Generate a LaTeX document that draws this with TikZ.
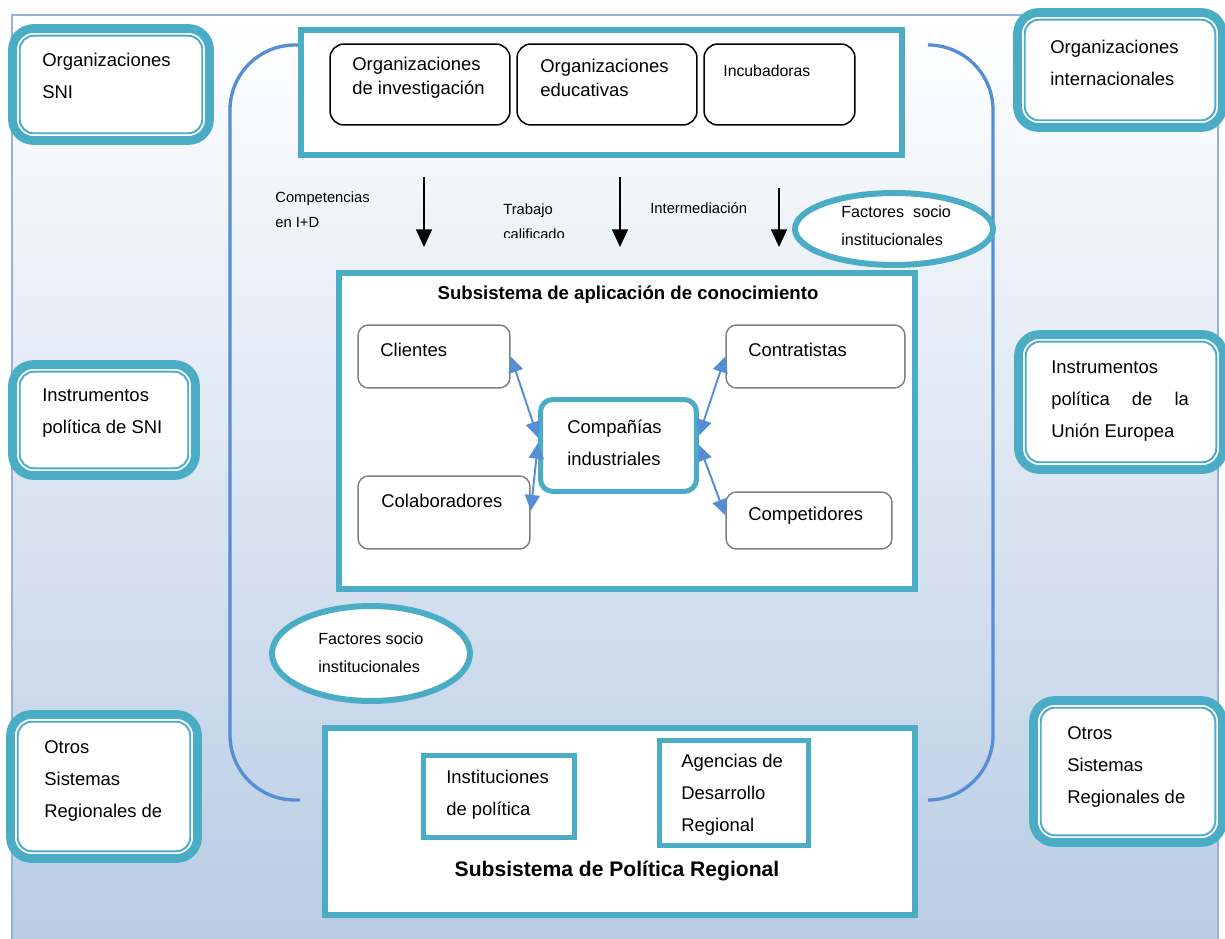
\documentclass[tikz,border=0pt]{standalone}
\usepackage{fontspec}
\setmainfont{Liberation Sans}
\usetikzlibrary{shapes.geometric,arrows.meta}
\pgfdeclarelayer{bg}
\pgfsetlayers{bg,main}
\definecolor{tealb}{RGB}{75,172,198}
\definecolor{bluel}{RGB}{85,142,213}
\definecolor{framec}{RGB}{149,179,215}
\definecolor{bgbot}{RGB}{183,203,228}
\definecolor{grayb}{RGB}{128,128,128}
\tikzset{
  cornerbox/.style={draw=tealb, line width=5pt, fill=white, rounded corners=12pt},
  innerline/.style={draw=tealb, line width=1.1pt, rounded corners=8pt},
  tealframe/.style={draw=tealb, line width=3.4pt, fill=white},
  tealsq/.style={draw=tealb, line width=2.85pt, fill=white},
  blackbox/.style={draw=black, line width=0.85pt, rounded corners=8pt, fill=white},
  graybox/.style={draw=grayb, line width=0.85pt, rounded corners=6pt, fill=white},
  ellipsebox/.style={ellipse, draw=tealb, line width=3.4pt, fill=white, inner sep=0pt},
  bracketline/.style={draw=bluel, line width=1.9pt, rounded corners=1.3cm},
  downarrow/.style={line width=1.1pt, arrows=-{Triangle[width=9pt,length=10pt]}},
  biarrow/.style={bluel, line width=1.1pt, arrows={Triangle[width=8.5pt,length=9pt]-Triangle[width=8.5pt,length=9pt]}},
  txt/.style={font=\fontsize{10.5}{18.2}\selectfont, align=left, inner sep=0pt, anchor=west},
  toptxt/.style={txt, font=\fontsize{10.5}{13.7}\selectfont},
  smalltxt/.style={txt, font=\fontsize{8.4}{14.2}\selectfont},
  socio/.style={txt, font=\fontsize{9.2}{15.9}\selectfont},
  title/.style={font=\bfseries\fontsize{10.6}{13}\selectfont, inner sep=0pt}
}
\begin{document}
\begin{tikzpicture}[x=0.02cm, y=-0.02cm]
        \useasboundingbox (0,0) rectangle (1225,939);
        \begin{pgfonlayer}{bg}
                \shade[top color=white, bottom color=bgbot] (12,15) rectangle (1218,960);
                \draw[framec, line width=1.1pt] (12,960) -- (12,15) -- (1218,15) -- (1218,960);
        \end{pgfonlayer}
        % brackets round the regional system
        \draw[bracketline] (300,45) -- (230,45) -- (230,800) -- (300,800);
        \draw[bracketline] (930,45) -- (993,45) -- (993,800) -- (930,800);
        % corner boxes
        \node[cornerbox, minimum width=3.94cm, minimum height=2.24cm] (orgsni) at (111,84.5) {};
        \node[cornerbox, minimum width=4.10cm, minimum height=2.30cm] (orgint) at (1120,70) {};
        \node[cornerbox, minimum width=3.66cm, minimum height=2.22cm] (instsni) at (104,420) {};
        \node[cornerbox, minimum width=4.10cm, minimum height=2.70cm] (instue) at (1121,402) {};
        \node[cornerbox, minimum width=3.74cm, minimum height=2.88cm] (otrosL) at (104,786.5) {};
        \node[cornerbox, minimum width=3.78cm, minimum height=2.84cm] (otrosR) at (1128,771.5) {};
        \foreach \n in {orgsni,orgint,instsni,instue,otrosL,otrosR}
                \draw[innerline] ([xshift=6.6pt,yshift=-6.6pt]\n.north west) rectangle ([xshift=-6.6pt,yshift=6.6pt]\n.south east);
        \node[txt] (orgsnit) at (42,76) {Organizaciones\\SNI};
        \node[txt] (orgintt) at (1050,62.5) {Organizaciones\\internacionales};
        \node[txt] (instsnit) at (42,413.5) {Instrumentos\\política de SNI};
        \node[txt] (instuet) at (1051,401) {Instrumentos\\política\hspace{1.2em}de\hspace{1.2em}la\\Unión Europea};
        \node[txt] (otrosLt) at (44,781) {Otros\\Sistemas\\Regionales de};
        \node[txt] (otrosRt) at (1067,767) {Otros\\Sistemas\\Regionales de};
        % knowledge generation
        \node[tealframe, minimum width=12.02cm, minimum height=2.50cm] (gen) at (601.5,92.5) {};
        \node[blackbox, minimum width=3.6cm, minimum height=1.62cm] (orginv) at (420,84.5) {};
        \node[blackbox, minimum width=3.6cm, minimum height=1.62cm] (orgedu) at (607,84.5) {};
        \node[blackbox, minimum width=3.02cm, minimum height=1.62cm] (incub) at (779.5,84.5) {};
        \node[toptxt] (orginvt) at (352,78) {Organizaciones\\de investigación};
        \node[toptxt] (orgedut) at (540,78) {Organizaciones\\educativas};
        \node[txt, font=\fontsize{9}{11}\selectfont] (incubt) at (723,71) {Incubadoras};
        % flows
        \coordinate (f1) at (424,177); \coordinate (g1) at (424,247);
        \coordinate (f2) at (620,177); \coordinate (g2) at (620,247);
        \coordinate (f3) at (779,188); \coordinate (g3) at (779,247);
        \draw[downarrow] (f1) -- (g1);
        \draw[downarrow] (f2) -- (g2);
        \draw[downarrow] (f3) -- (g3);
        \node[smalltxt] (lblcomp) at (275,209.5) {Competencias\\en I+D};
        \begin{scope}
                \clip (495,190) rectangle (600,238);
                \node[smalltxt] (lbltrab) at (503,221.5) {Trabajo\\calificado};
        \end{scope}
        \node[smalltxt] (lblinter) at (650,208) {Intermediación};
        % knowledge application
        \node[tealframe, minimum width=11.52cm, minimum height=6.32cm] (apl) at (627,431) {};
        \node[title] (apltitle) at (628,295) {Subsistema de aplicación de conocimiento};
        \node[graybox, minimum width=3.04cm, minimum height=1.26cm] (clientes) at (434,356.5) {};
        \node[graybox, minimum width=3.44cm, minimum height=1.46cm] (colab) at (444,512.5) {};
        \node[graybox, minimum width=3.58cm, minimum height=1.26cm] (contrat) at (815.5,356.5) {};
        \node[graybox, minimum width=3.32cm, minimum height=1.14cm] (compet) at (809,520.5) {};
        \node[draw=tealb, line width=2.85pt, rounded corners=7pt, fill=white, minimum width=3.12cm, minimum height=1.84cm] (compania) at (618.5,445.5) {};
        \node[txt] (clientest) at (380,350) {Clientes};
        \node[txt] (colabt) at (381,501) {Colaboradores};
        \node[txt] (contratt) at (748,350) {Contratistas};
        \node[txt] (compett) at (748,516) {Competidores};
        \node[txt] (companiat) at (567,443) {Compañías\\industriales};
        \draw[biarrow] (clientes.east) -- ([yshift=4.5pt]compania.west);
        \draw[biarrow] ([yshift=1pt]colab.east) -- ([yshift=1.5pt]compania.west);
        \draw[biarrow] (contrat.west) -- ([yshift=5.7pt]compania.east);
        \draw[biarrow] ([yshift=0.3pt]compania.east) -- ([yshift=3pt]compet.west);
        % socio-institutional factors
        \node[ellipsebox, minimum width=3.96cm, minimum height=1.44cm] (fsitop) at (894,229) {};
        \node[socio] (fsitopt) at (841,225.5) {Factores\ \ socio\\institucionales};
        \node[ellipsebox, minimum width=3.96cm, minimum height=1.90cm] (fsibot) at (371,653.5) {};
        \node[socio] (fsibott) at (318,653) {Factores socio\\institucionales};
        % regional policy
        \node[tealframe, minimum width=11.80cm, minimum height=3.74cm] (pol) at (620,821.5) {};
        \node[tealsq, minimum width=3.02cm, minimum height=1.64cm] (instpol) at (499,796.5) {};
        \node[tealsq, minimum width=2.98cm, minimum height=2.10cm] (agencias) at (734,793) {};
        \node[txt] (instpolt) at (446,794.5) {Instituciones\\de política};
        \node[txt] (agenciast) at (681,795) {Agencias de\\Desarrollo\\Regional};
        \node[title, font=\bfseries\fontsize{12}{14}\selectfont] (poltitle) at (617,871) {Subsistema de Política Regional};
\end{tikzpicture}
\end{document}
